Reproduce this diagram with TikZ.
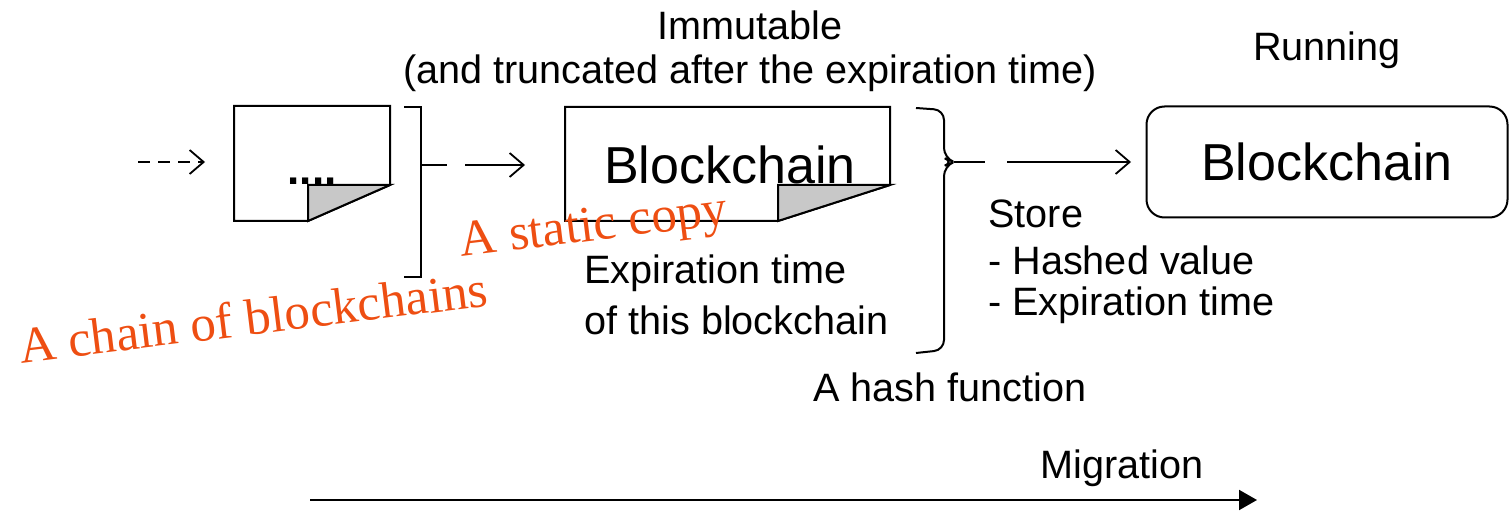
\documentclass[tikz,border=0pt]{standalone}
\usepackage{fontspec}
\setmainfont{Liberation Sans}
\newfontfamily\notefont{Liberation Serif}
\usetikzlibrary{arrows.meta}
\definecolor{noteorange}{HTML}{EE4E12}
\definecolor{foldgray}{HTML}{C8C8C8}
\tikzset{
  line/.style={line width=1pt, black},
  flow/.style={line, -{Straight Barb[length=7pt,width=12pt,line width=0.9pt]}},
  label/.style={inner sep=0pt, font=\fontsize{19.8}{22}\selectfont},
  big/.style={inner sep=0pt, font=\fontsize{26}{30}\selectfont},
  note/.style={inner sep=0pt, text=noteorange, font=\notefont\fontsize{25.5}{28}\selectfont, rotate=7},
}
\begin{document}
\begin{tikzpicture}[x=0.5pt,y=-0.5pt]
\useasboundingbox (0,0) rectangle (1509,513);

% first page of the chain (folded corner)
\draw[line] (234,106) -- (390,106) -- (390,185) -- (308,221) -- (234,221) -- cycle;
\draw[line, fill=foldgray] (308,185) -- (390,185) -- (308,221) -- cycle;
\node[big, anchor=base, font=\bfseries\fontsize{22}{26}\selectfont] (dots) at (312,185) {....};
\coordinate (doc1w) at (226,162);

% static copy (folded corner)
\draw[line] (565,107) -- (890,107) -- (890,185) -- (778,221) -- (565,221) -- cycle;
\draw[line, fill=foldgray] (778,185) -- (890,185) -- (778,221) -- cycle;
\node[big] (copy) at (730,165) {Blockchain};
\coordinate (doc2w) at (553,165);

% running blockchain
\node[big, draw, line width=1pt, rounded corners=9pt, minimum width=180.5pt, minimum height=55.5pt] (run) at (1327,162) {Blockchain};

% incoming dashed arrow
\coordinate (in0) at (138,162);
\draw[line, dashed, dash pattern=on 6pt off 4pt, -{Straight Barb[length=7pt,width=12pt,line width=0.9pt]}] (in0) -- (in0 -| 205,0);

% bracket around the chain
\coordinate (b1t) at (404,107);
\coordinate (b1b) at (404,277);
\coordinate (b1m) at (447,165);
\draw[line] (b1t) -- (421,107) -- (421,277) -- (b1b);
\draw[line] (421,165) -- (b1m);
\coordinate (a1s) at (465,165);
\draw[flow] (a1s) -- (doc2w -| 525,0);

% brace around the static copy
\coordinate (b2t) at (916,108);
\coordinate (b2b) at (916,353);
\coordinate (b2m) at (985,162);
\draw[line, rounded corners=5pt] (b2t) -- (944,110) -- (944,158) -- (954,162) -- (944,166) -- (944,350) -- (b2b);
\draw[line] (954,162) -- (b2m);
\coordinate (a2s) at (1007,162);
\draw[flow] (a2s) -- (run.west -| 1131,0);

% texts
\node[label] (imm) at (750,25) {Immutable};
\node[label] (trunc) at (750,73) {(and truncated after the expiration time)};
\node[label] (running) at (1327,50) {Running};
\node[label, anchor=west] (store) at (988,214) {Store};
\node[label, anchor=west] (hashed) at (988,260) {- Hashed value};
\node[label, anchor=west] (expst) at (988,305) {- Expiration time};
\node[label, anchor=west] (exp1) at (584,273) {Expiration time};
\node[label, anchor=west] (exp2) at (584,320) {of this blockchain};
\node[label] (hashfn) at (950,387) {A hash function};
\node[label] (mig) at (1122,468) {Migration};

% migration axis
\coordinate (m0) at (310,500);
\coordinate (m1) at (1257,500);
\draw[line, -{Triangle[length=9pt,width=10pt]}] (m0) -- (m1);

% handwritten notes
\node[note] (n1) at (594,229) {A static copy};
\node[note] (n2) at (253,317) {A chain of blockchains};
\end{tikzpicture}
\end{document}
